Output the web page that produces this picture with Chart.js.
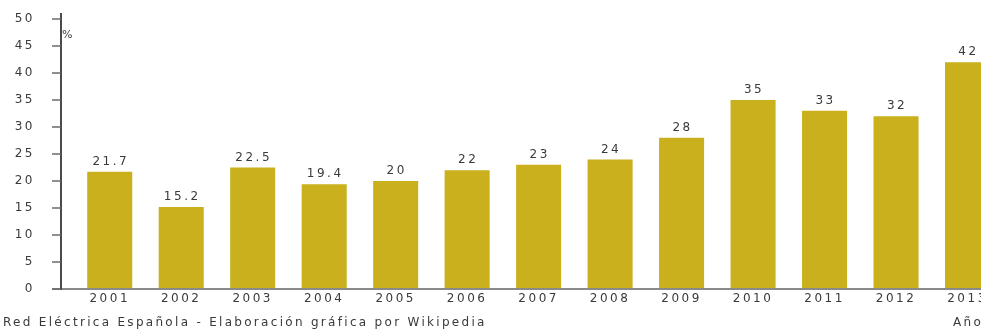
<!DOCTYPE html>
<html lang="es">
<head>
  <meta charset="UTF-8">
  <title>Cobertura eólica</title>
  <script src="https://cdn.jsdelivr.net/npm/chart.js"></script>
  <style>
    html, body { margin: 0; padding: 0; background: #fff; overflow: hidden; }
    #wrap { width: 1010px; height: 329px; }
  </style>
</head>
<body>
  <div id="wrap"><canvas id="grafico" width="1010" height="329"></canvas></div>

  <script>
    // datos
    const anios = ['2001', '2002', '2003', '2004', '2005', '2006', '2007', '2008', '2009', '2010', '2011', '2012', '2013'];
    const porcentajes = [21.7, 15.2, 22.5, 19.4, 20, 22, 23, 24, 28, 35, 33, 32, 42];
    const ejeMin = 0;
    const ejeMax = 50;
    const ejePaso = 5;

    const fuente = 'Red Eléctrica Española - Elaboración gráfica por Wikipedia';
    const tituloX = 'Año';
    const unidad = '%';

    const colorBarra = '#C9B01C';
    const colorTexto = '#3a3a3a';
    const familia = '"DejaVu Sans", sans-serif';
    const espaciado = '2.5px';

    // el eje y va separado de las barras, asi que lo pinto a mano
    const ejesYTextos = {
      id: 'ejesYTextos',
      beforeDraw(chart) {
        chart.ctx.letterSpacing = espaciado;
      },
      afterDatasetsDraw(chart) {
        const ctx = chart.ctx;
        const y = chart.scales.y;
        const area = chart.chartArea;
        const ejeX = area.left - 13;
        const cero = y.getPixelForValue(0);
        ctx.save();

        // eje x
        ctx.strokeStyle = '#8a8a8a';
        ctx.lineWidth = 2;
        ctx.beginPath();
        ctx.moveTo(ejeX - 9, cero);
        ctx.lineTo(chart.width, cero);
        ctx.stroke();

        // eje y y marcas
        ctx.strokeStyle = '#4a4a4a';
        ctx.lineWidth = 2;
        ctx.beginPath();
        ctx.moveTo(ejeX, area.top - 6);
        ctx.lineTo(ejeX, cero + 1);
        ctx.stroke();
        ctx.strokeStyle = '#6a6a6a';
        ctx.lineWidth = 1.5;
        y.ticks.forEach(t => {
          const py = y.getPixelForValue(t.value);
          ctx.beginPath();
          ctx.moveTo(ejeX - 9, py);
          ctx.lineTo(ejeX, py);
          ctx.stroke();
        });

        // valores encima de cada barra
        ctx.letterSpacing = espaciado;
        ctx.fillStyle = colorTexto;
        ctx.font = '12px ' + familia;
        ctx.textAlign = 'center';
        ctx.textBaseline = 'bottom';
        chart.getDatasetMeta(0).data.forEach((bar, i) => {
          ctx.fillText(String(porcentajes[i]), bar.x + 1, bar.y - 4);
        });

        // unidad
        ctx.font = '11px ' + familia;
        ctx.letterSpacing = '1px';
        ctx.textAlign = 'left';
        ctx.textBaseline = 'middle';
        ctx.fillText(unidad, ejeX + 1, y.getPixelForValue(47));

        // fuente y titulo del eje
        ctx.letterSpacing = '2.3px';
        ctx.font = '12px ' + familia;
        ctx.fillText(fuente, 3, 323);
        ctx.fillText(tituloX, 953, 323);
        ctx.restore();
      }
    };

    new Chart(document.getElementById('grafico'), {
      type: 'bar',
      data: {
        labels: anios,
        datasets: [{
          data: porcentajes,
          backgroundColor: colorBarra,
          borderWidth: 0,
          categoryPercentage: 1,
          barPercentage: 0.63
        }]
      },
      options: {
        responsive: false,
        devicePixelRatio: 1,
        animation: false,
        layout: { padding: { top: 19, right: 6.75, left: 0, bottom: 0 } },
        plugins: {
          legend: { display: false },
          tooltip: { enabled: false }
        },
        scales: {
          x: {
            grid: { display: false, drawTicks: false },
            border: { display: false },
            ticks: {
              color: colorTexto,
              font: { family: familia, size: 12 },
              padding: 3,
              maxRotation: 0,
              autoSkip: false
            },
            afterFit: s => { s.height = 40; }
          },
          y: {
            min: ejeMin,
            max: ejeMax,
            grid: { display: false, drawTicks: true, tickLength: 39 },
            border: { display: false },
            ticks: {
              stepSize: ejePaso,
              color: colorTexto,
              font: { family: familia, size: 12 },
              padding: 0
            },
            afterFit: s => { s.width = 74; }
          }
        }
      },
      plugins: [ejesYTextos]
    });
  </script>
</body>
</html>
